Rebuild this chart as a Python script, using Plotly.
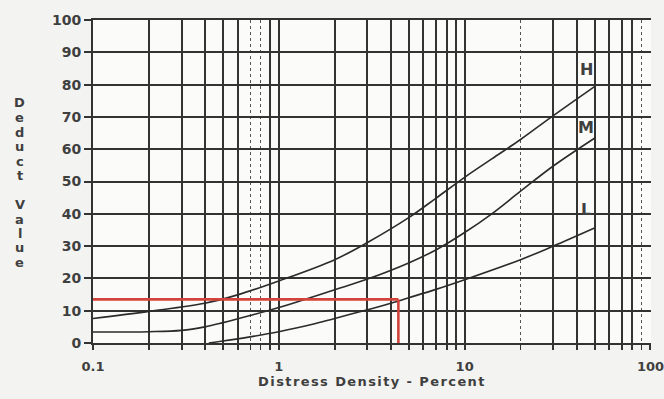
import math
import plotly.graph_objects as go

# Deduct value curves by severity (x = distress density %, y = deduct value)
h_x = [0.1, 0.2, 0.4, 0.6, 1, 2, 3, 5, 7, 10, 14, 20, 30, 50]
h_y = [7.6, 9.8, 12.3, 14.9, 19.2, 25.8, 31.1, 38.8, 44.8, 51.3, 57.0, 63.0, 70.4, 79.4]

m_x = [0.1, 0.2, 0.3, 0.4, 0.5, 0.7, 1, 2, 3, 5, 7, 10, 14, 20, 30, 50]
m_y = [3.4, 3.5, 3.9, 5.0, 6.3, 8.5, 11.0, 16.5, 19.8, 24.8, 28.8, 34.2, 40.0, 47.0, 54.8, 63.4]

l_x = [0.42, 0.5, 0.7, 1, 1.5, 2, 3, 4, 5, 7, 10, 20, 30, 50]
l_y = [0.0, 0.6, 1.9, 3.5, 5.7, 7.6, 10.3, 12.3, 14.0, 16.6, 19.6, 25.8, 30.0, 35.6]

curve_labels = ["H", "M", "L"]
label_x = 45
label_y = [84.8, 66.6, 41.2]

# Worked example read-off
red_x = 4.4
red_y = 13.5

# Tick labels and grid positions
x_major = [0.1, 0.2, 0.3, 0.4, 0.5, 0.6, 0.9, 1, 2, 3, 4, 5, 6, 7, 8, 9, 10,
           30, 40, 50, 60, 70, 80, 100]
x_labels = {0.1: "0.1", 1: "1", 10: "10", 100: "100"}
x_dotted = [0.7, 0.8, 20, 90]
y_ticks = [0, 10, 20, 30, 40, 50, 60, 70, 80, 90, 100]

ink = "#333333"
text_col = "#3f3f3f"
font_fam = "DejaVu Sans"

fig = go.Figure()
for xs, ys in [(h_x, h_y), (m_x, m_y), (l_x, l_y)]:
    fig.add_trace(go.Scatter(
        x=xs, y=ys, mode="lines",
        line=dict(color="#2b2b2b", width=1.6, shape="spline", smoothing=1.0),
        hoverinfo="skip", showlegend=False))

for name, yy in zip(curve_labels, label_y):
    fig.add_annotation(x=math.log10(label_x), y=yy, text=name, showarrow=False,
                       font=dict(family=font_fam, size=16, color=text_col, weight="bold"))

# Stacked y-axis title
title_letters = "Deduct Value"
for i, ch in enumerate(title_letters):
    if ch == " ":
        continue
    py = 103 + i * 14.5
    fig.add_annotation(xref="paper", yref="paper", x=(20 - 93) / 558,
                       y=(343 - py) / 323, text=ch, showarrow=False,
                       xanchor="center", yanchor="middle",
                       font=dict(family=font_fam, size=13, color=text_col, weight="bold"))

# Red read-off lines
red = "#d2433a"
fig.add_shape(type="line", xref="x", yref="y", x0=0.085, x1=red_x, y0=red_y, y1=red_y,
              line=dict(color=red, width=2.6), layer="above")
fig.add_shape(type="line", xref="x", yref="y", x0=red_x, x1=red_x, y0=red_y, y1=-1.6,
              line=dict(color=red, width=2.6), layer="above")

fig.update_xaxes(
    type="log", range=[-1, 2.003], automargin=False,
    tickmode="array", tickvals=x_major,
    ticktext=[x_labels.get(v, "") for v in x_major],
    ticklabeloverflow="allow", ticklabelstandoff=5,
    ticks="outside", ticklen=5, tickwidth=1.5, tickcolor=ink,
    showgrid=True, gridcolor=ink, gridwidth=1.7,
    showline=True, linecolor=ink, linewidth=2, mirror=True,
    tickfont=dict(family=font_fam, size=13, color=text_col, weight="bold"),
    minor=dict(tickmode="array", tickvals=x_dotted, showgrid=True,
               gridcolor="#555555", gridwidth=1.2, griddash="dot",
               ticks="outside", ticklen=5, tickcolor=ink, tickwidth=1.2),
    title=dict(text='<span style="letter-spacing:1.4px">Distress Density - Percent</span>',
               standoff=3,
               font=dict(family=font_fam, size=13, color=text_col, weight="bold")),
    zeroline=False,
)
fig.update_yaxes(
    range=[0, 100], tickvals=y_ticks, automargin=False,
    ticks="outside", ticklen=7, tickwidth=1.5, tickcolor=ink,
    showgrid=True, gridcolor=ink, gridwidth=2,
    showline=True, linecolor=ink, linewidth=2, mirror=False,
    tickfont=dict(family=font_fam, size=14, color=text_col, weight="bold"),
    zeroline=False,
)

fig.update_layout(
    width=664, height=399,
    margin=dict(l=93, r=13, t=20, b=56),
    paper_bgcolor="#f3f3f1", plot_bgcolor="#fbfbfa",
    showlegend=False,
)

fig.write_html("out.html")
